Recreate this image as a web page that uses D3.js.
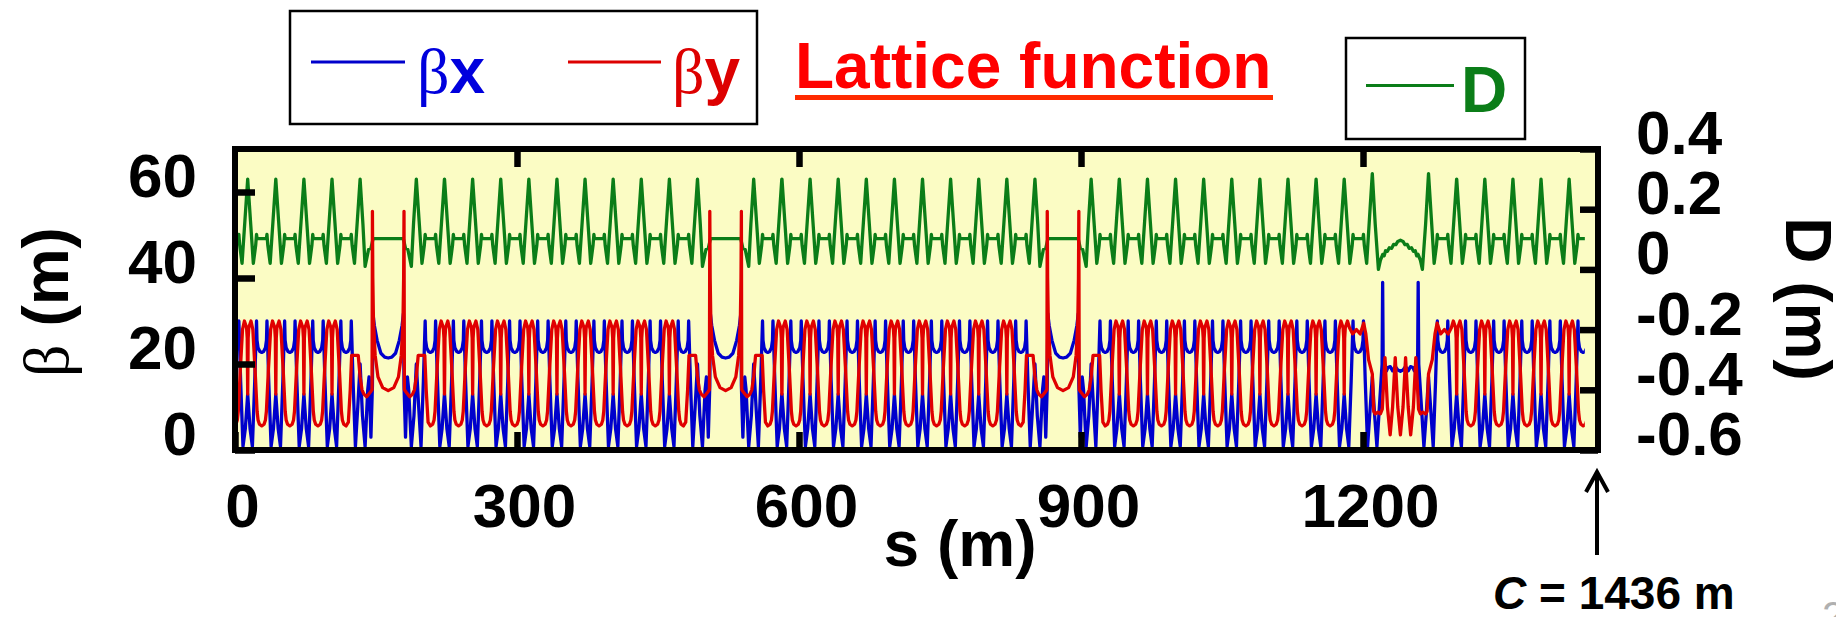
<!DOCTYPE html>
<html>
<head>
<meta charset="utf-8">
<script src="https://cdn.jsdelivr.net/npm/d3@7"></script>
<style>
  body { margin: 0; background: #fff; }
  text { font-family: "Liberation Sans", Arial, sans-serif; font-weight: bold; }
  .greek { font-family: "Liberation Serif", "Times New Roman", serif; font-weight: normal; }
</style>
</head>
<body>
<div id="plot"></div>
<script>
// ---- data ----
const circumference = 1436;
const cellLen = 29.9;

// normal arc cell, offset (m) from the dispersion peak -> value
const cellBx = [[0,13],[2.5,5],[5,0.8],[7.5,16],[9.4,30],[9.9,25.5],[11,23.8],[13,22.9],[14.95,22.7],[16.9,22.9],[18.9,23.8],[20,25.5],[20.5,30],[22.4,16],[24.9,0.8],[27.4,5],[29.9,13]];
const cellBy = [[0,13],[0.5,26],[1.2,28.5],[3.5,30],[5.5,28],[8,18],[10,9],[11,7],[12.5,6],[14.95,5.6],[17.4,6],[18.9,7],[19.9,9],[21.9,18],[24.4,28],[26.4,30],[28.7,28.5],[29.4,26],[29.9,13]];
const cellD  = [[0,0.30],[3,0.16],[6,0.02],[8.5,0.08],[9.4,0.116],[10,0.102],[19.9,0.102],[20.5,0.116],[21.4,0.08],[23.9,0.02],[26.9,0.16],[29.9,0.30]];

// straight section, first half (mirror symmetric about 59.8 m)
const ssBx = [[0,13],[2.5,5],[4.9,0.8],[7.4,16],[9.4,30],[9.9,25.5],[11,23.8],[12.9,22.9],[14.95,22.7],[16.9,22.9],[18.9,23.8],[20,25.5],[20.5,30],[22.4,16],[24.9,0.8],[27.4,10],[29.9,20],[32.4,8],[35.2,0.8],[38,14],[39.4,17],[41.4,3],[43,15],[43.6,31.7],[45,29],[48,25.5],[52,22.5],[56,21.6],[59.8,21.4]];
const ssBy = [[0,13],[0.5,26],[1.2,28.5],[3.5,30],[5.5,28],[8,18],[10,9],[11,7],[12.5,6],[14.95,5.6],[17.4,6.5],[19.4,14],[20.9,22],[27.9,22],[29.9,17],[31.9,14],[33.9,13],[36.9,12.4],[40.9,13.5],[42.6,14],[43,55.5],[43.4,40],[44.1,30],[45.9,22],[48.9,17],[53.9,14.5],[59.8,13.8]];
const ssD  = [[0,0.30],[3,0.16],[6,0.02],[8.5,0.08],[9.4,0.116],[10,0.102],[19.9,0.102],[20.5,0.116],[21.4,0.08],[23.9,0.02],[26.9,0.16],[29.9,0.30],[32.9,0.15],[35.2,0.01],[38.9,0.066],[41.4,0.07],[43.7,0.102],[59.8,0.102]];

// insertion near 1240 m, first half (mirror symmetric about 59.8 m)
const insBx = [[0,13],[2.5,5],[4.9,0.8],[7.4,16],[9.4,30],[9.9,25.5],[11,23.8],[12.9,22.9],[14.95,22.7],[16.9,22.9],[18.9,23.8],[20,25.5],[20.5,30],[22.4,16],[24.9,0.8],[27.4,9],[29.9,17],[32.4,8],[34.8,0.8],[38,12],[40.3,20],[40.9,39],[41.5,20],[43.4,19.2],[45,18.4],[46.5,19.2],[49,19.4],[51.5,18.4],[54.3,19.4],[57,18.6],[59.8,18.3]];
const insBy = [[0,13],[0.5,26],[1.2,28.5],[3.5,30],[5.5,28.5],[9,27],[13,28],[17,27],[20.7,29.5],[23,27],[25.9,21],[29.9,17.7],[31.4,9],[33,8.4],[36,8.8],[38.5,8.4],[40.5,9.5],[41.5,14],[43.4,21.5],[46,10],[48.9,3.5],[51.5,10],[54.3,21.5],[57,10],[59.8,3.5]];
const insD  = [[0,0.30],[3,0.16],[6,0.02],[8.5,0.08],[9.4,0.116],[10,0.102],[19.9,0.102],[20.5,0.116],[21.4,0.08],[23.9,0.02],[26.9,0.17],[29.9,0.318],[33,0.15],[36.4,0.0],[38.5,0.03],[41,0.05],[42.5,0.045],[44,0.062],[46,0.06],[48,0.072],[50.5,0.07],[52.5,0.083],[55,0.082],[57,0.093],[59.8,0.097]];

// where each piece starts along s (m)
const arcStarts = [-16.4, 13.5, 43.4, 73.3, 222.9, 252.8, 282.7, 312.6, 342.5, 372.4, 402.3, 432.2,
  581.9, 611.8, 641.7, 671.6, 701.5, 731.4, 761.3, 791.2, 940.8, 970.7, 1000.6, 1030.5, 1060.4,
  1090.3, 1120.2, 1150.1, 1299.7, 1329.6, 1359.5, 1389.4, 1419.3];
const straightStarts = [103.2, 462.1, 821.1];
const insertionStarts = [1180.0];

const xTicks = [0, 300, 600, 900, 1200];
const betaTicks = [0, 20, 40, 60];
const dTicks = [-0.6, -0.4, -0.2, 0, 0.2, 0.4];

// ---- build the series ----
function addPiece(out, start, prof, mirrorAt) {
  prof.forEach(([u, v]) => out.push([start + u, v]));
  if (mirrorAt) prof.forEach(([u, v]) => { if (u < mirrorAt) out.push([start + 2 * mirrorAt - u, v]); });
}
function buildSeries(cell, ss, ins) {
  const out = [];
  arcStarts.forEach(s0 => addPiece(out, s0, cell));
  straightStarts.forEach(s0 => addPiece(out, s0, ss, 2 * cellLen));
  insertionStarts.forEach(s0 => addPiece(out, s0, ins, 2 * cellLen));
  return out.sort((a, b) => a[0] - b[0]);
}
const bx = buildSeries(cellBx, ssBx, insBx);
const by = buildSeries(cellBy, ssBy, insBy);
const disp = buildSeries(cellD, ssD, insD);

// ---- drawing ----
const W = 1836, H = 617;
const pLeft = 235, pRight = 1598, pTop = 149, pBottom = 450;

const svg = d3.select("#plot").append("svg")
  .attr("width", W).attr("height", H);

const x = d3.scaleLinear().domain([0, 1450]).range([pLeft, pRight]);
const yB = d3.scaleLinear().domain([0, 70]).range([pBottom, pTop]);
const yD = d3.scaleLinear().domain([-0.6, 0.4]).range([pBottom, pTop]);

svg.append("rect")
  .attr("x", pLeft).attr("y", pTop)
  .attr("width", pRight - pLeft).attr("height", pBottom - pTop)
  .attr("fill", "#fbfcc4");

svg.append("clipPath").attr("id", "clip")
  .append("rect")
  .attr("x", x(0)).attr("y", pTop)
  .attr("width", x(circumference) - x(0)).attr("height", pBottom - pTop);

const plot = svg.append("g").attr("clip-path", "url(#clip)");

plot.append("path").datum(disp)
  .attr("fill", "none").attr("stroke", "#0b7d18").attr("stroke-width", 3.3)
  .attr("stroke-linejoin", "round")
  .attr("d", d3.line().x(d => x(d[0])).y(d => yD(d[1])));

plot.append("path").datum(bx)
  .attr("fill", "none").attr("stroke", "#0000cc").attr("stroke-width", 3.3)
  .attr("stroke-linejoin", "round")
  .attr("d", d3.line().x(d => x(d[0])).y(d => yB(d[1])));

plot.append("path").datum(by)
  .attr("fill", "none").attr("stroke", "#e00000").attr("stroke-width", 3.3)
  .attr("stroke-linejoin", "round")
  .attr("d", d3.line().x(d => x(d[0])).y(d => yB(d[1])));

// axes, ticks pointing inward
function styleAxis(g) {
  g.select(".domain").remove();
  g.selectAll(".tick line").attr("stroke", "#000").attr("stroke-width", 6.5);
  g.selectAll(".tick text").attr("fill", "#000").style("font-size", "62px");
}

svg.append("g")
  .attr("transform", `translate(0,${pBottom})`)
  .call(d3.axisBottom(x).tickValues(xTicks).tickSize(-18).tickFormat(d3.format("d")))
  .call(styleAxis)
  .call(g => g.selectAll(".tick text").attr("y", 77).attr("dy", 0).attr("x", 7));

svg.append("g")
  .attr("transform", `translate(0,${pTop})`)
  .call(d3.axisTop(x).tickValues(xTicks.slice(1)).tickSize(-18))
  .call(styleAxis)
  .call(g => g.selectAll(".tick text").remove());

svg.append("g")
  .attr("transform", `translate(${pLeft},0)`)
  .call(d3.axisLeft(yB).tickValues(betaTicks).tickSize(-20))
  .call(styleAxis)
  .call(g => g.selectAll(".tick text").attr("x", 197 - pLeft).attr("dy", 0).attr("y", 4.5));

svg.append("g")
  .attr("transform", `translate(${pRight},0)`)
  .call(d3.axisRight(yD).tickValues(dTicks).tickSize(-18)
    .tickFormat(d => d === 0 ? "0" : d.toFixed(1)))
  .call(styleAxis)
  .call(g => g.selectAll(".tick text").attr("x", 1636 - pRight).attr("dy", 0).attr("y", 4.5));

// frame
svg.append("rect")
  .attr("x", pLeft).attr("y", pTop)
  .attr("width", pRight - pLeft).attr("height", pBottom - pTop)
  .attr("fill", "none").attr("stroke", "#000").attr("stroke-width", 6);

// axis titles
svg.append("text").attr("x", 960).attr("y", 566).attr("text-anchor", "middle")
  .style("font-size", "64px").text("s (m)");

const bt = svg.append("text")
  .attr("transform", "translate(68,302) rotate(-90)")
  .attr("text-anchor", "middle").style("font-size", "64px");
bt.append("tspan").attr("class", "greek").text("β");
bt.append("tspan").text(" (m)");

svg.append("text")
  .attr("transform", "translate(1786,299) rotate(90)")
  .attr("text-anchor", "middle").style("font-size", "64px").text("D (m)");

// title
svg.append("text").attr("x", 795).attr("y", 88)
  .attr("fill", "#ff0000").style("font-size", "64px").text("Lattice function");
svg.append("rect").attr("x", 795).attr("y", 95).attr("width", 478).attr("height", 5)
  .attr("fill", "#ff2a00");

// legend boxes
svg.append("rect").attr("x", 290).attr("y", 11).attr("width", 467).attr("height", 113)
  .attr("fill", "#fff").attr("stroke", "#000").attr("stroke-width", 2.5);
svg.append("line").attr("x1", 311).attr("x2", 405).attr("y1", 62).attr("y2", 62)
  .attr("stroke", "#0000cc").attr("stroke-width", 3);
const lx = svg.append("text").attr("x", 417).attr("y", 93).attr("fill", "#0000dd").style("font-size", "64px");
lx.append("tspan").attr("class", "greek").text("β");
lx.append("tspan").text("x");
svg.append("line").attr("x1", 568).attr("x2", 661).attr("y1", 62).attr("y2", 62)
  .attr("stroke", "#dd0000").attr("stroke-width", 3);
const ly = svg.append("text").attr("x", 672).attr("y", 93).attr("fill", "#dd0000").style("font-size", "64px");
ly.append("tspan").attr("class", "greek").text("β");
ly.append("tspan").text("y");

svg.append("rect").attr("x", 1346).attr("y", 38).attr("width", 179).attr("height", 101)
  .attr("fill", "#fff").attr("stroke", "#000").attr("stroke-width", 2.5);
svg.append("line").attr("x1", 1366).attr("x2", 1454).attr("y1", 85.5).attr("y2", 85.5)
  .attr("stroke", "#0b7d18").attr("stroke-width", 3);
svg.append("text").attr("x", 1461).attr("y", 112).attr("fill", "#0b7d18")
  .style("font-size", "64px").text("D");

// circumference marker
svg.append("line").attr("x1", 1597).attr("x2", 1597).attr("y1", 474).attr("y2", 555)
  .attr("stroke", "#000").attr("stroke-width", 4);
svg.append("path").attr("d", "M1586,492 L1597,472 L1608,492")
  .attr("fill", "none").attr("stroke", "#000").attr("stroke-width", 4)
  .attr("stroke-linejoin", "miter");
const ct = svg.append("text").attr("x", 1493).attr("y", 609).style("font-size", "46px");
ct.append("tspan").style("font-style", "italic").text("C");
ct.append("tspan").text(" = 1436 m");

svg.append("text").attr("x", 1822).attr("y", 630).attr("fill", "#b0b0b0")
  .style("font-size", "40px").style("font-weight", "normal").text("2");
</script>
</body>
</html>
